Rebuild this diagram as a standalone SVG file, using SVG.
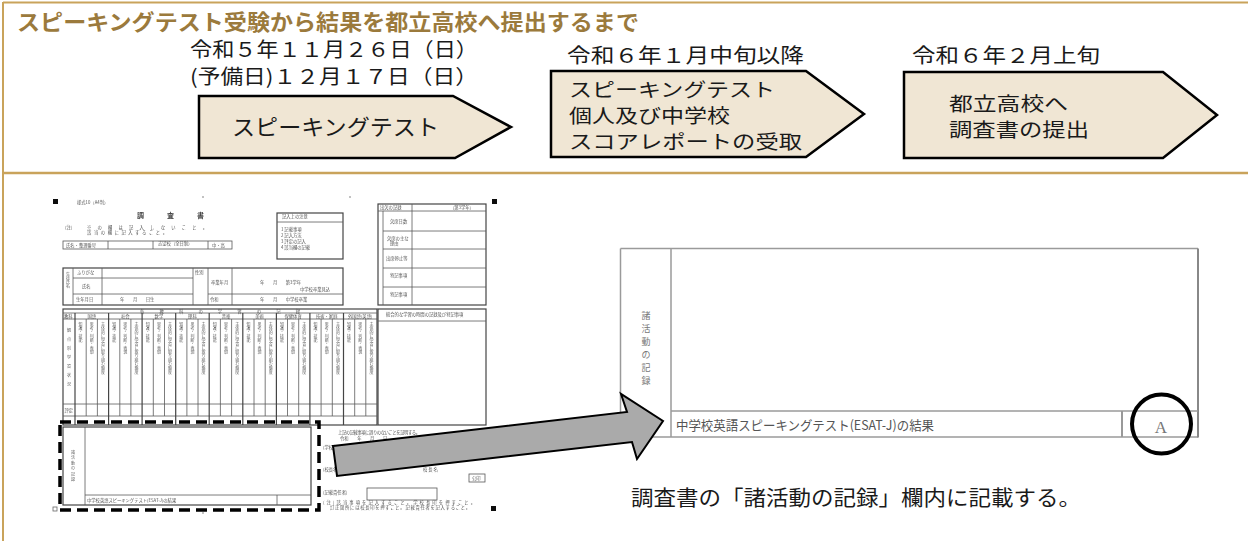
<svg xmlns="http://www.w3.org/2000/svg" width="1248" height="541" viewBox="0 0 1248 541">
<style>
.title{font-family:"Noto Sans CJK JP",sans-serif;font-weight:700;font-size:21.5px;fill:#9b7a3c}
.lbl{font-family:"Noto Sans CJK JP",sans-serif;font-size:20px;fill:#1a1a1a}
.at{font-family:"Noto Sans CJK JP",sans-serif;font-size:22px;fill:#1a1a1a}
.am{font-family:"Noto Sans CJK JP",sans-serif;font-size:19px;fill:#1a1a1a}
.step{fill:#f0e6d4;stroke:#000;stroke-width:2.5;stroke-linejoin:miter}
.frame{stroke:#c9a35b;fill:none}
.f{fill:none;stroke:#5a5a5a;stroke-width:0.8}
.fb{fill:none;stroke:#444;stroke-width:1.2}
.ft{font-family:"Noto Sans CJK JP",sans-serif;font-size:4.3px;fill:#555}
.vt{font-family:"Noto Sans CJK JP",sans-serif;font-size:4px;fill:#666;writing-mode:vertical-rl}
.rp{fill:none;stroke:#9a9a9a;stroke-width:1.5}
</style>
<defs>
<filter id="scan" x="-5%" y="-5%" width="110%" height="110%"><feGaussianBlur stdDeviation="0.35"/></filter>
</defs>
<rect x="0" y="0" width="1248" height="541" fill="#fff"/>

<g id="frame">
<line class="frame" x1="3" y1="2.5" x2="1248" y2="2.5" stroke-width="2"/>
<line class="frame" x1="3" y1="2" x2="3" y2="541" stroke-width="2"/>
<line class="frame" x1="3" y1="173" x2="1248" y2="173" stroke-width="2.5"/>
</g>

<text id="title" class="title" x="17" y="30" textLength="622" lengthAdjust="spacingAndGlyphs">スピーキングテスト受験から結果を都立高校へ提出するまで</text>

<g id="step1">
<text class="lbl"><tspan x="190" y="57" textLength="288" lengthAdjust="spacingAndGlyphs">令和５年１１月２６日（日）</tspan><tspan x="190" y="84" textLength="288" lengthAdjust="spacingAndGlyphs">(予備日)１２月１７日（日）</tspan></text>
<polygon class="step" points="199,96 453,96 511,127 455,158 199,158"/>
<text class="at" x="232" y="135" textLength="207" lengthAdjust="spacingAndGlyphs">スピーキングテスト</text>
</g>

<g id="step2">
<text class="lbl" x="567" y="63" textLength="237" lengthAdjust="spacingAndGlyphs">令和６年１月中旬以降</text>
<polygon class="step" points="551,71 806,71 864,114 806,157 551,157"/>
<text class="am"><tspan x="569" y="97" textLength="206" lengthAdjust="spacingAndGlyphs">スピーキングテスト</tspan><tspan x="569" y="123" textLength="161" lengthAdjust="spacingAndGlyphs">個人及び中学校</tspan><tspan x="569" y="149" textLength="233" lengthAdjust="spacingAndGlyphs">スコアレポートの受取</tspan></text>
</g>

<g id="step3">
<text class="lbl" x="912" y="63" textLength="188" lengthAdjust="spacingAndGlyphs">令和６年２月上旬</text>
<polygon class="step" points="904,72 1163,72 1217,115 1163,158 904,158"/>
<text class="am"><tspan x="949" y="111" textLength="119" lengthAdjust="spacingAndGlyphs">都立高校へ</tspan><tspan x="949" y="137" textLength="140" lengthAdjust="spacingAndGlyphs">調査書の提出</tspan></text>
</g>

<g id="form" filter="url(#scan)">
<rect x="53" y="199" width="5" height="5" fill="#111"/>
<rect x="492" y="199" width="5" height="5" fill="#111"/>
<rect x="491" y="506" width="5" height="5" fill="#111"/>
<rect x="53" y="507" width="4" height="4" fill="none" stroke="#666" stroke-width="0.8"/>
<circle cx="203" cy="197" r="0.8" fill="#777"/>
<circle cx="350" cy="197" r="0.8" fill="#777"/>
<circle cx="203" cy="513" r="0.8" fill="#777"/>
<text class="ft" x="77" y="204">様式10（A4判）</text>
<text x="137" y="218" font-family="Noto Sans CJK JP,sans-serif" font-size="7" font-weight="700" fill="#444">調</text>
<text x="167" y="218" font-family="Noto Sans CJK JP,sans-serif" font-size="7" font-weight="700" fill="#444">査</text>
<text x="197" y="218" font-family="Noto Sans CJK JP,sans-serif" font-size="7" font-weight="700" fill="#444">書</text>
<text class="ft" x="65" y="229">(注)</text>
<text class="ft" x="87" y="229" textLength="120">※の欄は記入しないこと。</text>
<text class="ft" x="87" y="234" textLength="80">該当の欄に記入すること。</text>
<rect class="f" x="63" y="241" width="169" height="8"/>
<line class="f" x1="108" y1="241" x2="108" y2="249"/>
<line class="f" x1="153" y1="241" x2="153" y2="249"/>
<line class="f" x1="208" y1="241" x2="208" y2="249"/>
<text class="ft" x="66" y="247">氏名・整理番号</text>
<text class="ft" x="158" y="245" font-size="3.5">志望校（全日制）</text>
<text class="ft" x="212" y="247">中・高</text>
<rect class="fb" x="277" y="213" width="66" height="46"/>
<line class="f" x1="277" y1="222" x2="343" y2="222"/>
<text class="ft" x="282" y="218" font-size="3.5">記入上の注意</text>
<text class="ft" x="281" y="231">1 記載事項</text>
<text class="ft" x="281" y="237">2 記入方法</text>
<text class="ft" x="281" y="243">3 評定の記入</text>
<text class="ft" x="281" y="249">4 該当欄の記載</text>
<rect class="fb" x="63" y="268" width="280" height="37"/>
<line class="f" x1="73" y1="268" x2="73" y2="305"/>
<line class="f" x1="102" y1="268" x2="102" y2="305"/>
<line class="f" x1="193" y1="268" x2="193" y2="305"/>
<line class="f" x1="208" y1="268" x2="208" y2="305"/>
<line class="f" x1="232" y1="268" x2="232" y2="305"/>
<line class="f" x1="73" y1="278" x2="193" y2="278"/>
<line class="f" x1="73" y1="294" x2="193" y2="294"/>
<line class="f" x1="208" y1="294" x2="343" y2="294"/>
<text class="vt" x="68" y="272">生徒氏名</text>
<text class="ft" x="77" y="274">ふりがな</text>
<text class="ft" x="82" y="288">氏名</text>
<text class="ft" x="76" y="301">生年月日</text>
<text class="ft" x="120" y="301">年　　月　　日生</text>
<text class="ft" x="195" y="274">性別</text>
<text class="ft" x="211" y="284">卒業年月</text>
<text class="ft" x="210" y="301">令和</text>
<text class="ft" x="260" y="284">年　　月　　第3学年</text>
<text class="ft" x="300" y="291">中学校卒業見込</text>
<text class="ft" x="260" y="301">年　　月　　中学校卒業</text>
<rect class="fb" x="378" y="204" width="108" height="101"/>
<line class="f" x1="378" y1="211" x2="486" y2="211"/>
<line class="f" x1="383" y1="211" x2="383" y2="305"/>
<line class="f" x1="412" y1="204" x2="412" y2="305"/>
<line class="f" x1="383" y1="231" x2="486" y2="231"/>
<line class="f" x1="383" y1="249" x2="486" y2="249"/>
<line class="f" x1="383" y1="268" x2="486" y2="268"/>
<line class="f" x1="383" y1="287" x2="486" y2="287"/>
<text class="ft" x="380" y="209">出欠の記録</text>
<text class="ft" x="450" y="209">（第3学年）</text>
<text class="ft" x="390" y="223">欠席日数</text>
<text class="ft" x="387" y="240">欠席の主な</text>
<text class="ft" x="390" y="245">理由</text>
<text class="ft" x="386" y="260">出席停止等</text>
<text class="ft" x="390" y="277">特記事項</text>
<text class="ft" x="390" y="296">特記事項</text>
<rect class="fb" x="63" y="309" width="314" height="116"/>
<line class="f" x1="63" y1="313" x2="377" y2="313"/>
<line class="f" x1="63" y1="319" x2="377" y2="319"/>
<line class="f" x1="63" y1="404" x2="377" y2="404"/>
<line class="f" x1="63" y1="416" x2="377" y2="416"/>
<line class="fb" x1="75" y1="313" x2="75" y2="425"/>
<g class="fb">
<line x1="108.6" y1="313" x2="108.6" y2="425"/>
<line x1="142.1" y1="313" x2="142.1" y2="425"/>
<line x1="175.7" y1="313" x2="175.7" y2="425"/>
<line x1="209.2" y1="313" x2="209.2" y2="425"/>
<line x1="242.8" y1="313" x2="242.8" y2="425"/>
<line x1="276.4" y1="313" x2="276.4" y2="425"/>
<line x1="309.9" y1="313" x2="309.9" y2="425"/>
<line x1="343.5" y1="313" x2="343.5" y2="425"/>
</g>
<g class="f">
<line x1="86.2" y1="319" x2="86.2" y2="416"/><line x1="97.4" y1="319" x2="97.4" y2="416"/>
<line x1="119.8" y1="319" x2="119.8" y2="416"/><line x1="130.9" y1="319" x2="130.9" y2="416"/>
<line x1="153.3" y1="319" x2="153.3" y2="416"/><line x1="164.5" y1="319" x2="164.5" y2="416"/>
<line x1="186.9" y1="319" x2="186.9" y2="416"/><line x1="198.0" y1="319" x2="198.0" y2="416"/>
<line x1="220.4" y1="319" x2="220.4" y2="416"/><line x1="231.6" y1="319" x2="231.6" y2="416"/>
<line x1="254.0" y1="319" x2="254.0" y2="416"/><line x1="265.2" y1="319" x2="265.2" y2="416"/>
<line x1="287.5" y1="319" x2="287.5" y2="416"/><line x1="298.7" y1="319" x2="298.7" y2="416"/>
<line x1="321.1" y1="319" x2="321.1" y2="416"/><line x1="332.3" y1="319" x2="332.3" y2="416"/>
<line x1="354.7" y1="319" x2="354.7" y2="416"/><line x1="365.8" y1="319" x2="365.8" y2="416"/>
</g>
<text class="ft" x="140" y="312.6" textLength="160" lengthAdjust="spacing">各教科の学習の記録</text>
<text class="ft" x="64" y="318" font-size="3.4">教科</text>
<g class="ft" font-size="3.6" text-anchor="middle">
<text x="91.8" y="317.8">国語</text>
<text x="125.3" y="317.8">社会</text>
<text x="158.9" y="317.8">数学</text>
<text x="192.4" y="317.8">理科</text>
<text x="226" y="317.8">音楽</text>
<text x="259.6" y="317.8">美術</text>
<text x="293.1" y="317.8">保健体育</text>
<text x="326.7" y="317.8">技術・家庭</text>
<text x="360.2" y="317.8">外国語(英語)</text>
</g>
<text class="vt" x="69" y="328" letter-spacing="5">観点別学習状況</text>
<text class="ft" x="64.5" y="412" font-size="3.4">評定</text>
<g class="vt">
<text x="80.6" y="322">知識・技能</text><text x="91.8" y="322">思考・判断・表現</text><text x="103" y="322">主体的に学習に取り組む態度</text>
<text x="114.2" y="322">知識・技能</text><text x="125.3" y="322">思考・判断・表現</text><text x="136.5" y="322">主体的に学習に取り組む態度</text>
<text x="147.7" y="322">知識・技能</text><text x="158.9" y="322">思考・判断・表現</text><text x="170.1" y="322">主体的に学習に取り組む態度</text>
<text x="181.3" y="322">知識・技能</text><text x="192.4" y="322">思考・判断・表現</text><text x="203.6" y="322">主体的に学習に取り組む態度</text>
<text x="214.8" y="322">知識・技能</text><text x="226" y="322">思考・判断・表現</text><text x="237.2" y="322">主体的に学習に取り組む態度</text>
<text x="248.4" y="322">知識・技能</text><text x="259.6" y="322">思考・判断・表現</text><text x="270.8" y="322">主体的に学習に取り組む態度</text>
<text x="281.9" y="322">知識・技能</text><text x="293.1" y="322">思考・判断・表現</text><text x="304.3" y="322">主体的に学習に取り組む態度</text>
<text x="315.5" y="322">知識・技能</text><text x="326.7" y="322">思考・判断・表現</text><text x="337.9" y="322">主体的に学習に取り組む態度</text>
<text x="349.1" y="322">知識・技能</text><text x="360.2" y="322">思考・判断・表現</text><text x="371.4" y="322">主体的に学習に取り組む態度</text>
</g>
<rect class="fb" x="378" y="309" width="108" height="116"/>
<line class="f" x1="378" y1="321" x2="486" y2="321"/>
<text class="ft" x="386" y="316" font-size="3.6">総合的な学習の時間の記録及び特記事項</text>
<rect class="fb" x="63" y="427" width="248" height="78"/>
<line class="f" x1="85" y1="427" x2="85" y2="505"/>
<line class="f" x1="85" y1="495" x2="311" y2="495"/>
<line class="f" x1="277" y1="495" x2="277" y2="505"/>
<text class="vt" x="73" y="450" letter-spacing="1.5">諸活動の記録</text>
<text class="ft" x="87" y="502">中学校英語スピーキングテスト(ESAT-J)の結果</text>
<text class="ft" x="338" y="434" textLength="82" lengthAdjust="spacing">上記の記載事項に誤りのないことを証明する。</text>
<text class="ft" x="340" y="440">令和　　年　　月　　日</text>
<text class="ft" x="323" y="449">(学校名)</text>
<text class="ft" x="323" y="471">(校長名)</text>
<text class="ft" x="423" y="471">校 長 名</text>
<rect class="f" x="469" y="474" width="16" height="8"/>
<text class="ft" x="472" y="479.5" font-size="3.4">公印</text>
<text class="ft" x="323" y="494">(記載責任者)</text>
<rect class="f" x="367" y="488" width="70" height="12"/>
<text class="ft" x="323" y="504" textLength="152" font-size="3.6">(注)該当事項を記入すること。学校長印を押すこと。</text>
<text class="ft" x="330" y="509" textLength="140" font-size="3.6">訂正箇所には校長印を押すこと。記載責任者を記入すること。</text>
</g>

<rect id="highlight" x="60" y="422" width="259" height="88" fill="none" stroke="#000" stroke-width="3.5" stroke-dasharray="11,6"/>

<g id="right-panel">
<line class="rp" x1="620.5" y1="248.5" x2="1198" y2="248.5"/>
<line class="rp" x1="620.5" y1="248.5" x2="620.5" y2="437"/>
<line class="rp" x1="620.5" y1="437" x2="1198" y2="437"/>
<line x1="1198" y1="248.5" x2="1198" y2="437.5" stroke="#888" stroke-width="2"/>
<line class="rp" x1="671" y1="248.5" x2="671" y2="437"/>
<line class="rp" x1="671" y1="411" x2="1198" y2="411"/>
<line x1="1122" y1="411" x2="1122" y2="437" stroke="#999" stroke-width="2"/>
<text font-family="Noto Sans CJK JP,sans-serif" font-size="9" fill="#777" text-anchor="middle"><tspan x="646" y="319">諸</tspan><tspan x="646" y="332">活</tspan><tspan x="646" y="345">動</tspan><tspan x="646" y="358">の</tspan><tspan x="646" y="371">記</tspan><tspan x="646" y="384">録</tspan></text>
<text x="676" y="430" font-family="Noto Sans CJK JP,sans-serif" font-size="13" fill="#555" textLength="258" lengthAdjust="spacingAndGlyphs">中学校英語スピーキングテスト(ESAT-J)の結果</text>
<text x="1161" y="433" font-family="Liberation Serif,serif" font-size="17" fill="#777" text-anchor="middle">A</text>
<circle cx="1161.5" cy="424" r="29.5" fill="none" stroke="#000" stroke-width="4"/>
</g>

<g id="connectors">
<polygon points="333,446 627,412 621,394 663,421 637,459 632,442 337,476" fill="#aaaaaa" stroke="#000" stroke-width="2" stroke-linejoin="miter"/>
</g>

<text id="caption" x="631" y="505" font-family="Noto Sans CJK JP,sans-serif" font-size="21" fill="#1a1a1a" textLength="450" lengthAdjust="spacingAndGlyphs">調査書の「諸活動の記録」欄内に記載する。</text>
</svg>
